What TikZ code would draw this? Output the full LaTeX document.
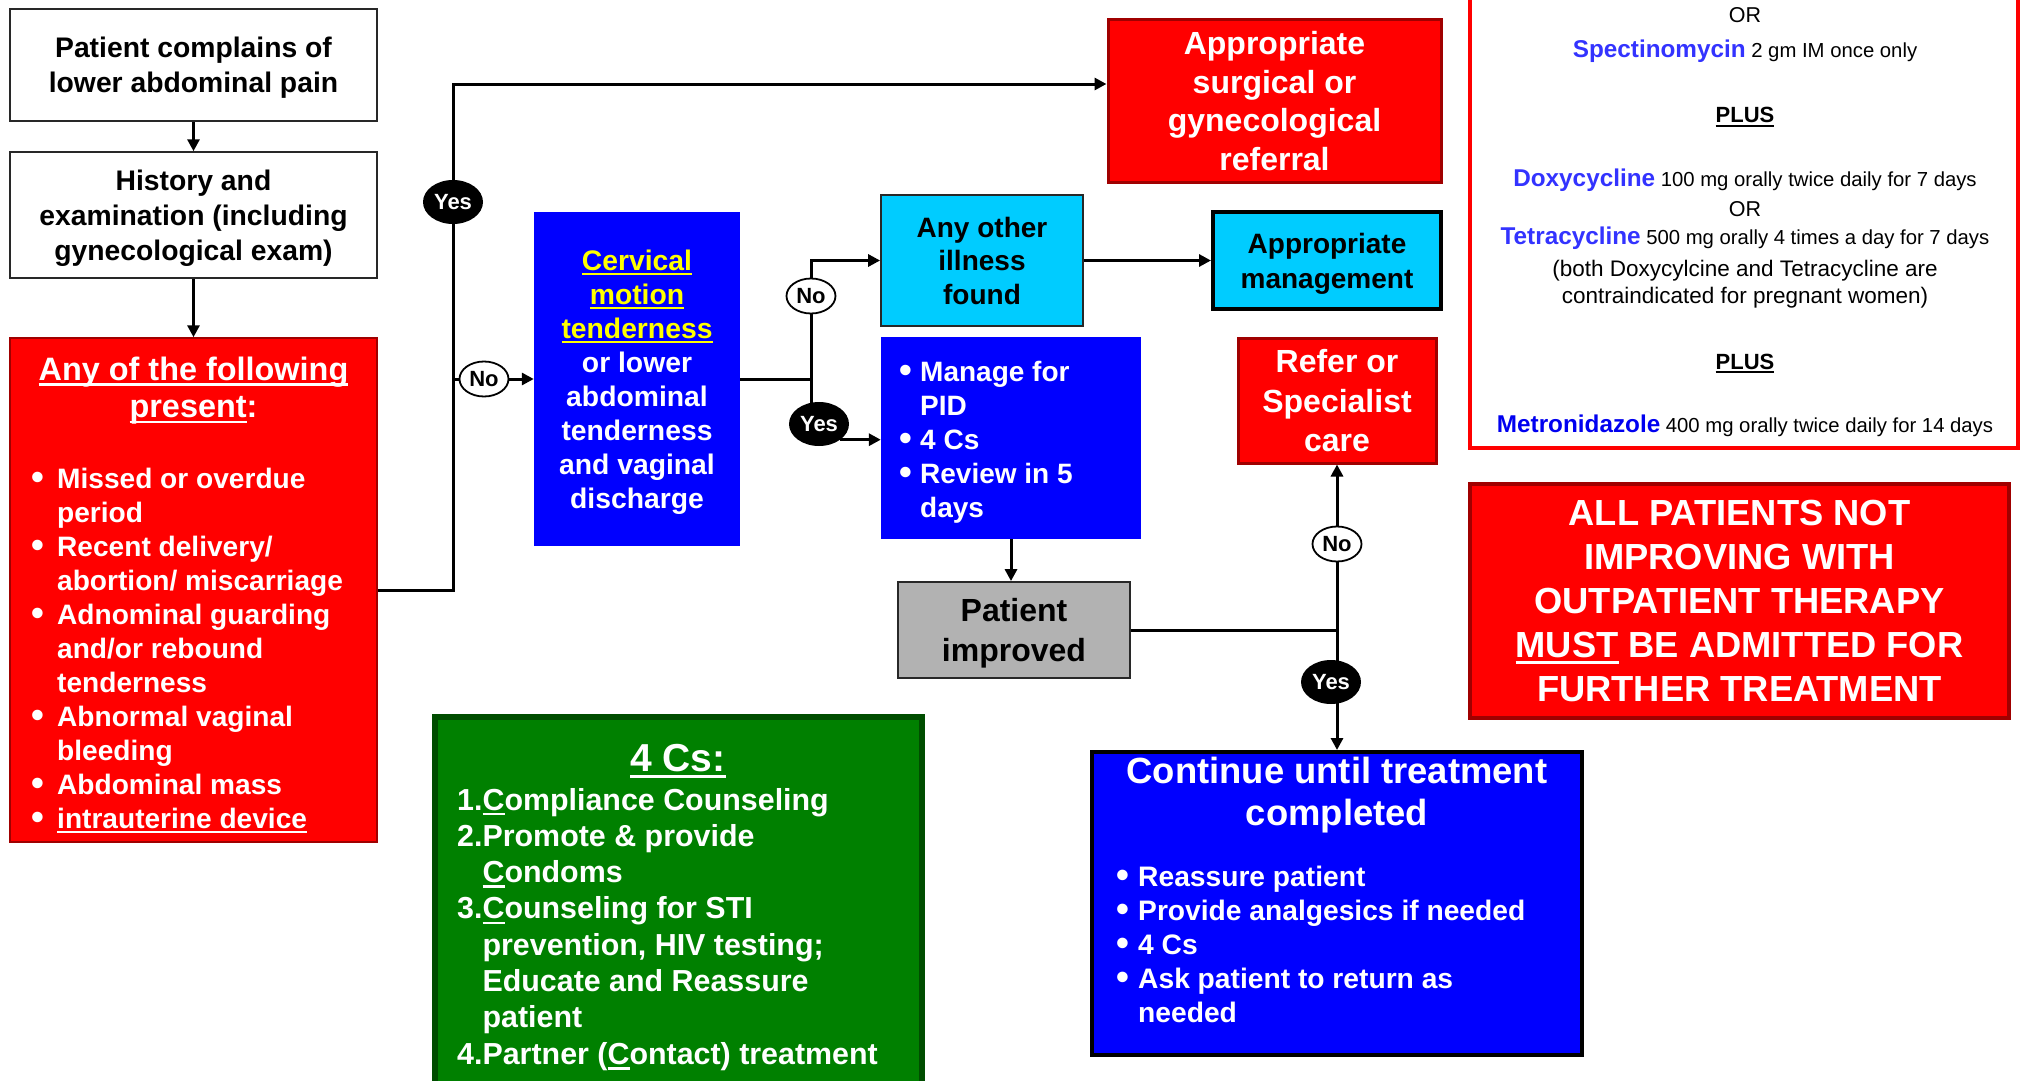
\documentclass[tikz,border=0pt]{standalone}
\usepackage{fontspec}
\setmainfont{Liberation Sans}
\usepackage{graphicx}
\usetikzlibrary{arrows.meta,shapes.geometric,calc}

\definecolor{ptred}{RGB}{255,0,0}
\definecolor{ptredline}{RGB}{160,0,0}
\definecolor{ptblue}{RGB}{0,0,255}
\definecolor{ptcyan}{RGB}{0,204,255}
\definecolor{ptgray}{RGB}{178,178,178}
\definecolor{ptgreen}{RGB}{0,128,0}
\definecolor{ptgreenline}{RGB}{0,77,0}
\definecolor{ptyellow}{RGB}{255,255,0}
\definecolor{drugblue}{RGB}{51,51,255}
\definecolor{metroblue}{RGB}{0,0,240}
\definecolor{frameline}{RGB}{40,40,40}

% font size / leading in one go
\newcommand\setfs[2]{\fontsize{#1pt}{#2pt}\selectfont}
% heavy underline that scales with the font
\newcommand\ulx[1]{\setbox0\hbox{#1}\rlap{\rule[-0.18em]{\wd0}{0.085em}}\box0\relax}
% round bullet in a box of given width, and the matching indent
\newcommand\bul[1]{\makebox[#1][l]{\raisebox{-0.04em}{\scalebox{1.3}{•}}}}
\newcommand\ind[1]{\hspace*{#1}}

\begin{document}
\begin{tikzpicture}[x=1pt,y=-1pt,
  sz/.style 2 args={minimum width=#1pt, minimum height=#2pt},
  plainbox/.style={rectangle, draw=frameline, line width=1.5pt, fill=white, inner sep=0pt, align=center, font=\bfseries\setfs{28.3}{35}},
  redbox/.style={rectangle, draw=ptredline, line width=3pt, fill=ptred, text=white, inner sep=0pt, align=center},
  bluebox/.style={rectangle, fill=ptblue, text=white, inner sep=0pt, align=center},
  cyanbox/.style={rectangle, fill=ptcyan, inner sep=0pt, align=center, font=\bfseries\setfs{28}{34}},
  yesov/.style={ellipse, fill=black, text=white, inner sep=0pt, minimum width=60pt, minimum height=44pt, font=\bfseries\setfs{22}{26}},
  noov/.style={ellipse, draw=black, line width=1.8pt, fill=white, inner sep=0pt, minimum width=49pt, minimum height=35pt, font=\bfseries\setfs{22}{26}},
  conn/.style={line width=3pt},
  arr/.style={conn, -{Triangle[length=12pt,width=12pt]}},
  txt/.style={inner sep=0pt, anchor=base west},
  txtc/.style={inner sep=0pt, anchor=base},
]
\useasboundingbox (0,0) rectangle (2021,1081);
\clip (0,0) rectangle (2021,1081);
\fill[white] (0,0) rectangle (2021,1081);

% ---------- left column ----------
\node[plainbox, sz={367}{112}] (complain) at (193.5,65) {Patient complains of\\\smash{lower abdominal pain}};
\node[plainbox, sz={367}{126}] (history) at (193.5,215) {History and\\examination (including\\\smash{gynecological exam)}};
\node[redbox, line width=1.5pt, sz={367}{504}] (signs) at (193.5,590) {};

\node[txtc, text=white, font=\bfseries\setfs{32.4}{37.5}] (signstitle) at (193.5,380)
  {\begin{tabular}[t]{@{}c@{}}\ulx{Any of the following}\\\ulx{present}:\end{tabular}};
\node[txt, text=white, font=\bfseries\setfs{28.1}{34}] (signslist) at (31,488)
  {\begin{tabular}[t]{@{}l@{}}
   \bul{26pt}Missed or overdue\\
   \ind{26pt}period\\
   \bul{26pt}Recent delivery/\\
   \ind{26pt}abortion/ miscarriage\\
   \bul{26pt}Adnominal guarding\\
   \ind{26pt}and/or rebound\\
   \ind{26pt}tenderness\\
   \bul{26pt}Abnormal vaginal\\
   \ind{26pt}bleeding\\
   \bul{26pt}Abdominal mass\\
   \bul{26pt}\ulx{intrauterine device}
   \end{tabular}};

% ---------- middle ----------
\node[bluebox, sz={206}{334}, font=\bfseries\setfs{28.3}{34}] (cmt) at (637,379)
  {\textcolor{ptyellow}{\ulx{Cervical}}\\\textcolor{ptyellow}{\ulx{motion}}\\\textcolor{ptyellow}{\ulx{tenderness}}\\or lower\\abdominal\\tenderness\\and vaginal\\\smash{discharge}};

\node[redbox, sz={333}{162}, font=\bfseries\setfs{32}{38.5}] (surgref) at (1274.5,101)
  {Appropriate\\surgical or\\gynecological\\\smash{referral}};
\node[cyanbox, draw=frameline, line width=1.8pt, sz={202}{131}, font=\bfseries\setfs{28}{33.6}] (other) at (982,260.5)
  {Any other\\illness\\\smash{found}};
\node[cyanbox, draw=black, line width=4pt, sz={228}{97}, font=\bfseries\setfs{28}{35}] (mgmt) at (1327,260.5)
  {Appropriate\\\smash{management}};

\node[bluebox, sz={260}{202}] (pid) at (1011,438) {};
\node[txt, text=white, font=\bfseries\setfs{28}{34}] (pidlist) at (899,381)
  {\begin{tabular}[t]{@{}l@{}}
   \bul{21pt}Manage for\\
   \ind{21pt}PID\\
   \bul{21pt}4 Cs\\
   \bul{21pt}Review in 5\\
   \ind{21pt}days
   \end{tabular}};

\node[plainbox, fill=ptgray, line width=1.8pt, sz={232}{96}, font=\bfseries\setfs{32}{40}] (improved) at (1014,630)
  {Patient\\\smash{improved}};
\node[redbox, sz={198}{125}, font=\bfseries\setfs{32}{39.5}] (specialist) at (1337,400.5)
  {Refer or\\Specialist\\\smash{care}};

% ---------- 4 Cs ----------
\node[rectangle, fill=ptgreen, draw=ptgreenline, line width=6pt, sz={487}{400}] (fourcs) at (678.5,917) {};
\node[txtc, text=white, font=\bfseries\setfs{39}{44}] (fourcstitle) at (678,771) {\ulx{4 Cs:}};
\node[txt, text=white, font=\bfseries\setfs{30.4}{36.3}] (fourcslist) at (457,810)
  {\begin{tabular}[t]{@{}l@{}l@{}}
   1.&\ulx{C}ompliance Counseling\\
   2.&Promote \& provide\\
     &\ulx{C}ondoms\\
   3.&\ulx{C}ounseling for STI\\
     &prevention, HIV testing;\\
     &Educate and Reassure\\
     &patient\\
   4.&Partner (\ulx{C}ontact) treatment
   \end{tabular}};

% ---------- continuation ----------
\node[bluebox, draw=black, line width=4pt, sz={490}{303}] (continue) at (1337,903.5) {};
\node[txtc, text=white, font=\bfseries\setfs{36.4}{42}] (conttitle) at (1337,783)
  {\begin{tabular}[t]{@{}c@{}}Continue until treatment\\completed\end{tabular}};
\node[txt, text=white, font=\bfseries\setfs{28.2}{34}] (contlist) at (1116,886)
  {\begin{tabular}[t]{@{}l@{}}
   \bul{22pt}Reassure patient\\
   \bul{22pt}Provide analgesics if needed\\
   \bul{22pt}4 Cs\\
   \bul{22pt}Ask patient to return as\\
   \ind{22pt}needed
   \end{tabular}};

% ---------- right column ----------
\node[rectangle, draw=ptred, line width=3.5pt, fill=white, sz={548}{480}, inner sep=0pt] (drugs) at (1744,208) {};
\node[txtc, font=\setfs{21.5}{25}] (or1) at (1745,22.7) {OR};
\node[txtc] (spec) at (1745,57.3)
  {{\bfseries\setfs{24.3}{28}\color{drugblue}Spectinomycin}\setfs{20.3}{24}\ 2 gm IM once only};
\node[txtc, font=\bfseries\setfs{22}{26}] (plus1) at (1745,122.7) {\ulx{PLUS}};
\node[txtc] (doxy) at (1745,186)
  {{\bfseries\setfs{24.3}{28}\color{drugblue}Doxycycline}\setfs{20.3}{24}\ 100 mg orally twice daily for 7 days};
\node[txtc, font=\setfs{21.5}{25}] (or2) at (1745,216.7) {OR};
\node[txtc] (tetra) at (1745,244.3)
  {{\bfseries\setfs{24.3}{28}\color{drugblue}Tetracycline}\setfs{20.3}{24}\ 500 mg orally 4 times a day for 7 days};
\node[txtc, font=\setfs{22.5}{26}] (note1) at (1745,276.7) {(both Doxycylcine and Tetracycline are};
\node[txtc, font=\setfs{22.5}{26}] (note2) at (1745,303.3) {contraindicated for pregnant women)};
\node[txtc, font=\bfseries\setfs{22}{26}] (plus2) at (1745,369.3) {\ulx{PLUS}};
\node[txtc] (metro) at (1745,432.7)
  {{\bfseries\setfs{24.3}{28}\color{metroblue}Metronidazole}\setfs{20.3}{24}\ 400 mg orally twice daily for 14 days};

\node[redbox, line width=4pt, sz={539}{234}, font=\bfseries\setfs{36.3}{44}] (admit) at (1739.5,601)
  {ALL PATIENTS NOT\\IMPROVING WITH\\OUTPATIENT THERAPY\\\ulx{MUST} BE ADMITTED FOR\\FURTHER TREATMENT};

% ---------- decision labels ----------
\node[yesov] (yes1) at (453,202) {Yes};
\node[noov]  (no1)  at (484,379) {No};
\node[noov]  (no2)  at (811,296) {No};
\node[yesov] (yes2) at (819,424) {Yes};
\node[noov]  (no3)  at (1337,544) {No};
\node[yesov] (yes3) at (1331,682) {Yes};

\coordinate (jL) at (453,379);
\coordinate (jT) at (453,84);
\coordinate (jM) at (811,379);
\coordinate (jR) at (1337,630);

% ---------- connectors ----------
\draw[arr] (complain) -- (history);
\draw[arr] (history) -- (signs);
\draw[conn] (signs.east) -| (jL) -- (yes1);
\draw[arr] (yes1) -- (jT) -- (jT -| surgref.west);
\draw[conn] (jL) -- (no1);
\draw[arr] (no1) -- (cmt.west);
\draw[conn] (cmt.east) -- (jM) -- (no2);
\draw[arr] (no2) |- (other.west);
\draw[conn] (jM) -- ([yshift=-1pt]jM |- yes2.north);
\draw[arr] (yes2.south east) -- (yes2.south east -| pid.west);
\draw[arr] (other.east) -- (mgmt.west);
\draw[arr] (pid.south) -- (pid.south |- improved.north);
\draw[conn] (improved.east) -- (jR) -- (no3);
\draw[arr] (no3) -- (specialist.south);
\draw[conn] (jR) -- ([yshift=-1pt]jR |- yes3.north);
\draw[arr] ([yshift=1pt]jR |- yes3.south) -- (jR |- continue.north);
\end{tikzpicture}
\end{document}
